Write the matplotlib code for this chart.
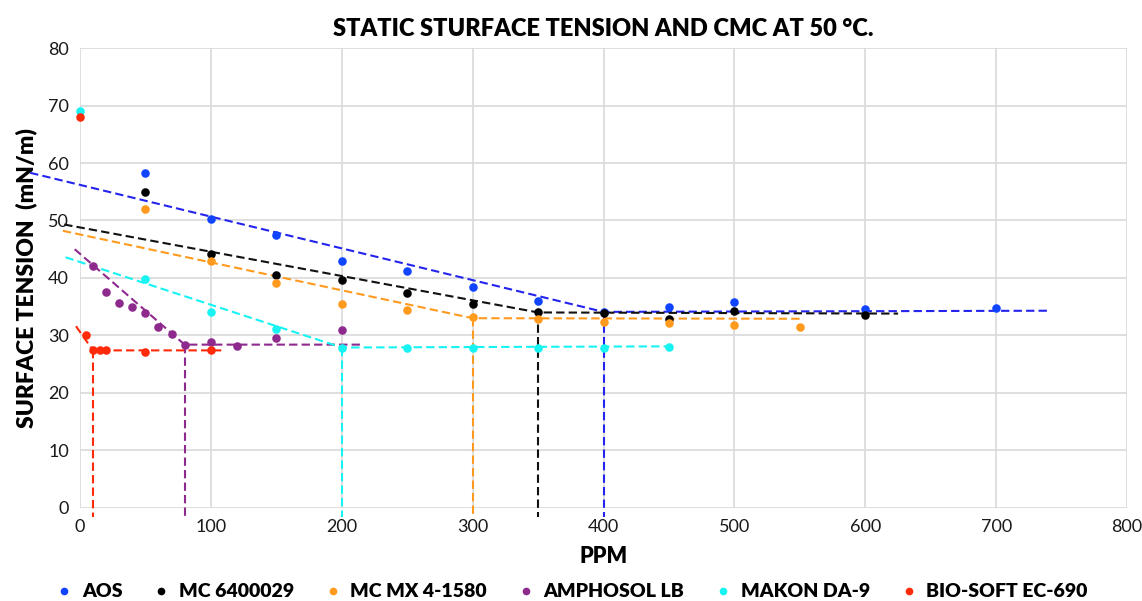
import matplotlib
matplotlib.use("Agg")
import matplotlib.pyplot as plt
from matplotlib.lines import Line2D

plt.rcParams["font.family"] = ["Lato", "DejaVu Sans"]

# measured points (ppm, mN/m)
aos_x = [50, 100, 150, 200, 250, 300, 350, 400, 450, 500, 600, 700]
aos_y = [58.3, 50.2, 47.5, 43.0, 41.2, 38.4, 36.0, 34.0, 35.0, 35.8, 34.6, 34.7]

mc64_x = [50, 100, 150, 200, 250, 300, 350, 400, 450, 500, 600]
mc64_y = [55.0, 44.2, 40.6, 39.7, 37.4, 35.4, 34.0, 33.9, 32.9, 34.2, 33.5]

mcmx_x = [50, 100, 150, 200, 250, 300, 350, 400, 450, 500, 550]
mcmx_y = [52.0, 43.0, 39.2, 35.4, 34.5, 33.2, 32.8, 32.3, 32.1, 31.9, 31.5]

amph_x = [10, 20, 30, 40, 50, 60, 70, 80, 100, 120, 150, 200]
amph_y = [42.1, 37.6, 35.7, 35.0, 33.9, 31.5, 30.3, 28.3, 28.9, 28.1, 29.6, 30.9]

makon_x = [0, 50, 100, 150, 200, 250, 300, 350, 400, 450]
makon_y = [69.0, 39.8, 34.1, 31.2, 27.8, 27.9, 27.9, 27.9, 27.9, 28.0]

bio_x = [0, 5, 10, 15, 20, 50, 100]
bio_y = [68.0, 30.1, 27.5, 27.5, 27.5, 27.2, 27.4]

# hand-drawn trend lines: start point, CMC break point, end of plateau
aos_line = ([-38, 400, 740], [58.3, 34.1, 34.3])
mc64_line = ([-12, 350, 625], [49.3, 34.0, 33.8])
mcmx_line = ([-13, 300, 553], [48.2, 33.0, 32.9])
amph_line = ([-4, 80, 215], [45.0, 28.4, 28.4])
makon_line = ([-11, 200, 450], [43.6, 27.9, 28.1])
bio_line = ([-3, 10, 108], [31.6, 27.4, 27.4])

names = ["AOS", "MC 6400029", "MC MX 4-1580", "AMPHOSOL LB", "MAKON DA-9", "BIO-SOFT EC-690"]
point_colors = ["#1144FF", "#000000", "#FF9A1F", "#8E2A8E", "#17F2F2", "#FF2A0A"]
line_colors = ["#2424EE", "#111111", "#FF9A1F", "#8E2A8E", "#17F2F2", "#FF2A0A"]

xs = [aos_x, mc64_x, mcmx_x, amph_x, makon_x, bio_x]
ys = [aos_y, mc64_y, mcmx_y, amph_y, makon_y, bio_y]
lines = [aos_line, mc64_line, mcmx_line, amph_line, makon_line, bio_line]

fig = plt.figure(figsize=(11.42, 6.01), dpi=100)
ax = fig.add_axes([0.070, 0.155, 0.917, 0.765])

for lx_ly, lc in zip(lines, line_colors):
    lx, ly = lx_ly
    ax.plot(lx, ly, color=lc, lw=1.5, ls=(0, (4, 2)), clip_on=False, zorder=3)
    # drop line at the CMC
    ax.plot([lx[1], lx[1]], [ly[1], -1.6], color=lc, lw=1.5, ls=(0, (4, 2)),
            clip_on=False, zorder=3)

for x, y, c in zip(xs, ys, point_colors):
    ax.scatter(x, y, s=38, color=c, zorder=4, clip_on=False, linewidths=0)

ax.set_xlim(0, 800)
ax.set_ylim(0, 80)
ax.set_xticks(range(0, 801, 100))
ax.set_yticks(range(0, 81, 10))
ax.grid(True, color="#D9D9D9", lw=1.2)
ax.set_axisbelow(True)
for s in ax.spines.values():
    s.set_visible(False)
ax.tick_params(length=0, labelsize=13, colors="#1A1A1A", pad=8)

ax.set_title("STATIC STURFACE TENSION AND CMC AT 50 °C.", fontsize=17,
             fontweight="heavy", pad=9)
ax.set_xlabel("PPM", fontsize=15.5, fontweight="heavy", labelpad=8)
ax.set_ylabel("SURFACE TENSION  (mN/m)", fontsize=16.5, fontweight="heavy", labelpad=8)

handles = [Line2D([], [], ls="", marker="o", markersize=4.5, color=c) for c in point_colors]
fig.legend(handles, names, loc="lower center", ncol=6, frameon=False,
           bbox_to_anchor=(0.5, -0.028), prop={"size": 14, "weight": "heavy"},
           columnspacing=1.5, handletextpad=0.4, handlelength=1.0)

fig.savefig("out.png", dpi=100)
